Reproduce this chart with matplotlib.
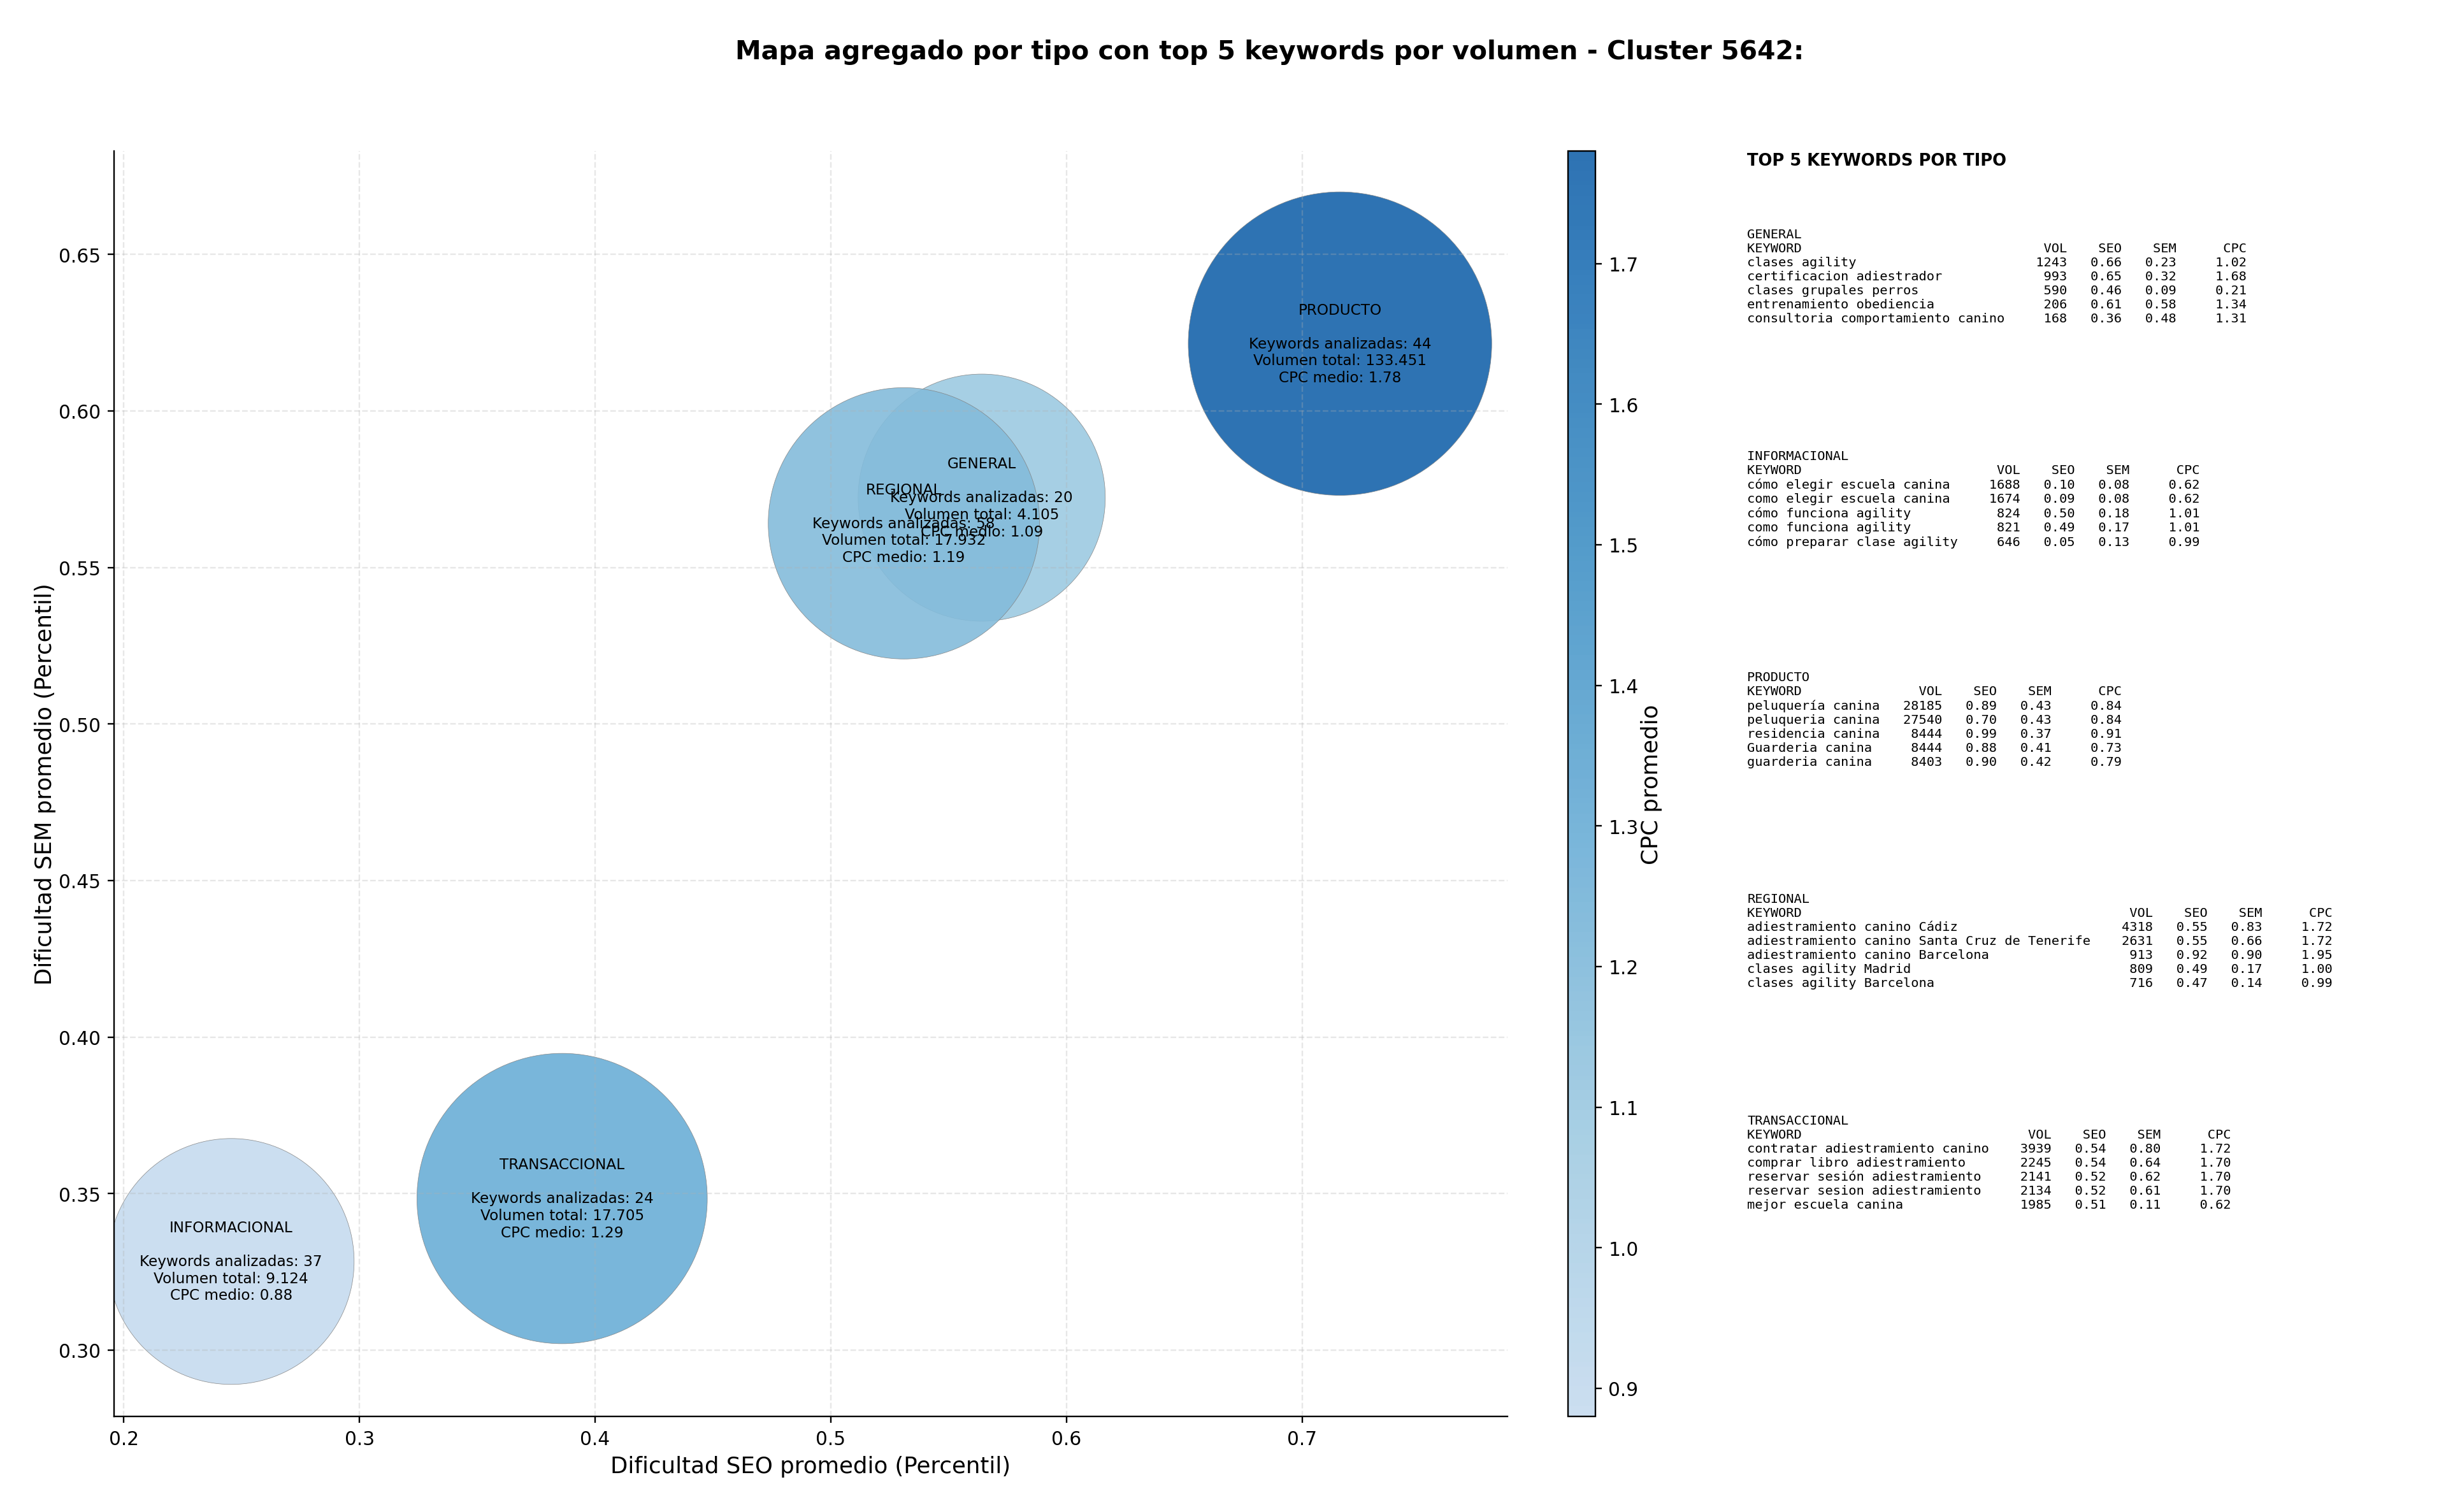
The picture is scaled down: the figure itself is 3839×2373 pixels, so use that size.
import matplotlib
matplotlib.use("Agg")
import matplotlib.pyplot as plt
import numpy as np
from matplotlib.colors import LinearSegmentedColormap

# Datos agregados por tipo
tipos = ["GENERAL", "INFORMACIONAL", "PRODUCTO", "REGIONAL", "TRANSACCIONAL"]
seo_medio = [0.564, 0.2456, 0.716, 0.531, 0.386]
sem_medio = [0.5723, 0.3283, 0.6215, 0.5641, 0.3484]
n_keywords = [20, 37, 44, 58, 24]
volumen_total = [4105, 9124, 133451, 17932, 17705]
cpc_medio = [1.09, 0.88, 1.78, 1.19, 1.29]
peso_burbuja = [17140, 16965, 25840, 20660, 23650]

# Top 5 keywords por tipo: (keyword, vol, seo, sem, cpc)
top_general = [
    ("clases agility", 1243, 0.66, 0.23, 1.02),
    ("certificacion adiestrador", 993, 0.65, 0.32, 1.68),
    ("clases grupales perros", 590, 0.46, 0.09, 0.21),
    ("entrenamiento obediencia", 206, 0.61, 0.58, 1.34),
    ("consultoria comportamiento canino", 168, 0.36, 0.48, 1.31),
]
top_informacional = [
    ("cómo elegir escuela canina", 1688, 0.10, 0.08, 0.62),
    ("como elegir escuela canina", 1674, 0.09, 0.08, 0.62),
    ("cómo funciona agility", 824, 0.50, 0.18, 1.01),
    ("como funciona agility", 821, 0.49, 0.17, 1.01),
    ("cómo preparar clase agility", 646, 0.05, 0.13, 0.99),
]
top_producto = [
    ("peluquería canina", 28185, 0.89, 0.43, 0.84),
    ("peluqueria canina", 27540, 0.70, 0.43, 0.84),
    ("residencia canina", 8444, 0.99, 0.37, 0.91),
    ("Guarderia canina", 8444, 0.88, 0.41, 0.73),
    ("guarderia canina", 8403, 0.90, 0.42, 0.79),
]
top_regional = [
    ("adiestramiento canino Cádiz", 4318, 0.55, 0.83, 1.72),
    ("adiestramiento canino Santa Cruz de Tenerife", 2631, 0.55, 0.66, 1.72),
    ("adiestramiento canino Barcelona", 913, 0.92, 0.90, 1.95),
    ("clases agility Madrid", 809, 0.49, 0.17, 1.00),
    ("clases agility Barcelona", 716, 0.47, 0.14, 0.99),
]
top_transaccional = [
    ("contratar adiestramiento canino", 3939, 0.54, 0.80, 1.72),
    ("comprar libro adiestramiento", 2245, 0.54, 0.64, 1.70),
    ("reservar sesión adiestramiento", 2141, 0.52, 0.62, 1.70),
    ("reservar sesion adiestramiento", 2134, 0.52, 0.61, 1.70),
    ("mejor escuela canina", 1985, 0.51, 0.11, 0.62),
]
tops = [top_general, top_informacional, top_producto, top_regional, top_transaccional]

# Colormap azul recortado
blues = plt.get_cmap("Blues")
cmap = LinearSegmentedColormap.from_list("azules", blues(np.linspace(0.25, 0.8, 256)))

fig = plt.figure(figsize=(18, 11.128), dpi=213.33)
ax = fig.add_axes([0.0466, 0.0632, 0.5695, 0.8365])
cax = fig.add_axes([0.6409, 0.0632, 0.0111, 0.8365])

sc = ax.scatter(seo_medio, sem_medio, s=peso_burbuja, c=cpc_medio, cmap=cmap,
                vmin=min(cpc_medio), vmax=max(cpc_medio), alpha=0.9,
                edgecolors="gray", linewidths=0.25)

for i, tipo in enumerate(tipos):
    vol_txt = f"{volumen_total[i]:,}".replace(",", ".")
    etiqueta = (f"{tipo}\n\nKeywords analizadas: {n_keywords[i]}\n"
                f"Volumen total: {vol_txt}\nCPC medio: {cpc_medio[i]:.2f}")
    ax.text(seo_medio[i], sem_medio[i], etiqueta, ha="center", va="center", fontsize=7.8)

ax.set_xlim(0.1959, 0.787)
ax.set_ylim(0.2788, 0.683)
ax.set_xlabel("Dificultad SEO promedio (Percentil)", fontsize=12)
ax.set_ylabel("Dificultad SEM promedio (Percentil)", fontsize=12, labelpad=1.5)
ax.grid(True, linestyle="--", alpha=0.3)
ax.spines["top"].set_visible(False)
ax.spines["right"].set_visible(False)

cbar = fig.colorbar(sc, cax=cax)
cbar.set_label("CPC promedio", fontsize=12, labelpad=1)

fig.text(0.519, 0.9655, "Mapa agregado por tipo con top 5 keywords por volumen - Cluster 5642:",
         ha="center", va="center", fontsize=13.8, fontweight="bold")

# Panel de texto con top 5
x_panel = 0.7142
fig.text(x_panel, 0.8989, "TOP 5 KEYWORDS POR TIPO", fontsize=8.7, fontweight="bold", va="top")
for i, (tipo, filas) in enumerate(zip(tipos, tops)):
    w = max(len(f[0]) for f in filas)
    lineas = [tipo, f"{'KEYWORD':<{w}}{'VOL':>8}{'SEO':>7}{'SEM':>7}{'CPC':>9}"]
    for kw, vol, seo, sem, cpc in filas:
        lineas.append(f"{kw:<{w}}{vol:>8}{seo:>7.2f}{sem:>7.2f}{cpc:>9.2f}")
    fig.text(x_panel, 0.8488 - i * 0.14646, "\n".join(lineas),
             family="DejaVu Sans Mono", fontsize=6.9, va="top")

fig.savefig("out.png", dpi=213.33)
